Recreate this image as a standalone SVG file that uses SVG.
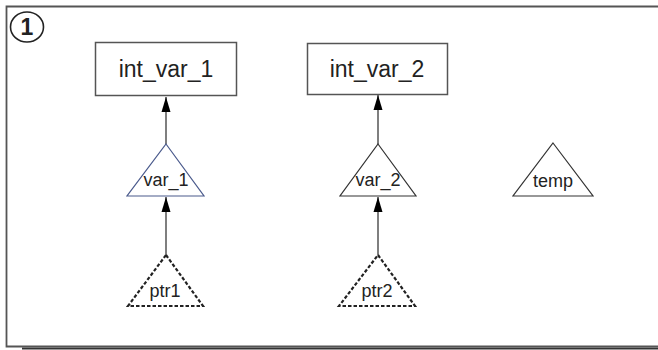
<svg xmlns="http://www.w3.org/2000/svg" width="658" height="350" viewBox="0 0 658 350">
<defs>
<style>
.box{fill:#fff;stroke:#555;stroke-width:1.5}
.tri{fill:#fff;stroke:#333;stroke-width:1.2}
.dash{fill:#fff;stroke:#222;stroke-width:2.2;stroke-dasharray:3.5 2}
.lbl{font-family:"Liberation Sans",Arial,sans-serif;fill:#222;text-anchor:middle}
.big{font-size:23px}
.small{font-size:18px}
.edge{stroke:#555;stroke-width:1.5;fill:none;marker-end:url(#arr)}
</style>
<marker id="arr" viewBox="0 0 15 10" refX="15" refY="5" markerWidth="15" markerHeight="10" markerUnits="userSpaceOnUse" orient="auto">
<path d="M0,0.5 L15,5 L0,9.5 z" fill="#000"/>
</marker>
</defs>
<rect width="658" height="350" fill="#fff"/>
<g id="frame">
<line x1="22" y1="348.5" x2="658" y2="348.5" stroke="#333" stroke-width="2"/>
<path d="M660,6.5 L6.5,6.5 L6.5,346.5 L660,346.5" fill="none" stroke="#555" stroke-width="1.8"/>
<ellipse cx="27" cy="27" rx="16.5" ry="15" fill="#fff" stroke="#222" stroke-width="1.6"/>
<text x="27" y="35" class="lbl" style="font-size:23px;font-weight:bold" fill="#111">1</text>
</g>
<g id="connectors">
<line class="edge" x1="166" y1="144" x2="166" y2="97"/>
<line class="edge" x1="378" y1="144" x2="378" y2="95"/>
<line class="edge" x1="166" y1="255" x2="166" y2="197"/>
<line class="edge" x1="378" y1="255" x2="378" y2="197"/>
</g>
<g id="int_var_1">
<rect class="box" x="95.5" y="42.5" width="141" height="53"/>
<text class="lbl big" x="166" y="77">int_var_1</text>
</g>
<g id="int_var_2">
<rect class="box" x="307.5" y="43.5" width="140" height="51"/>
<text class="lbl big" x="377" y="77">int_var_2</text>
</g>
<g id="var_1">
<polygon points="166,144 204,196 127,196" fill="#fff" stroke="#4a5a8c" stroke-width="1.2"/>
<text class="lbl small" x="166" y="186">var_1</text>
</g>
<g id="var_2">
<polygon class="tri" points="378,144 416,196 340,196"/>
<text class="lbl small" x="378" y="186">var_2</text>
</g>
<g id="temp">
<polygon class="tri" points="553,143 593,196 513,196"/>
<text class="lbl small" x="553" y="187">temp</text>
</g>
<g id="ptr1">
<polygon class="dash" points="166,255 203,306 128,306"/>
<text class="lbl small" x="165" y="297">ptr1</text>
</g>
<g id="ptr2">
<polygon class="dash" points="378,255 415,306 339,306"/>
<text class="lbl small" x="377" y="297">ptr2</text>
</g>
</svg>
